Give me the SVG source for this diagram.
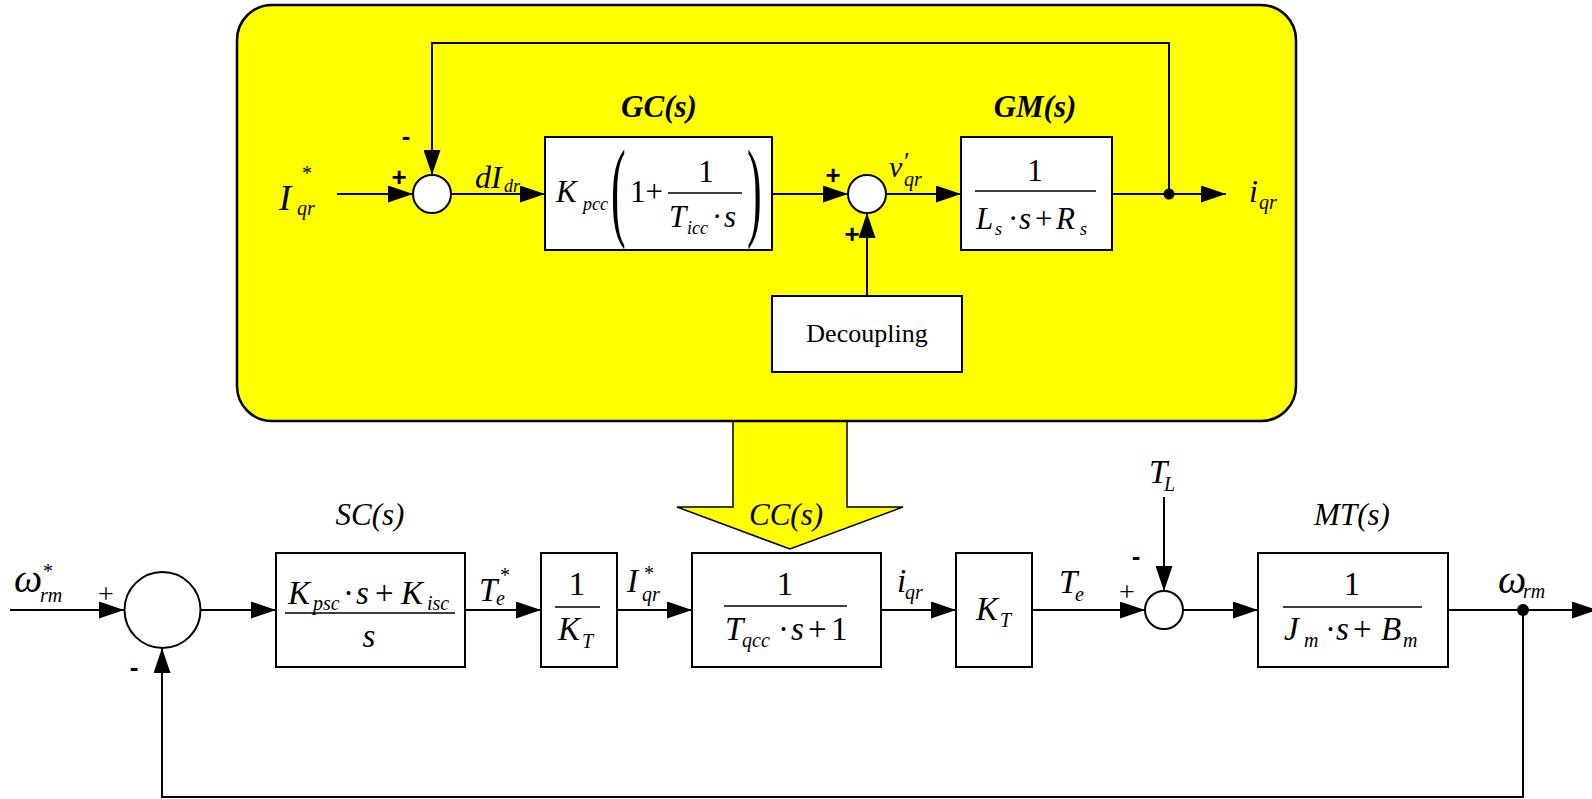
<svg xmlns="http://www.w3.org/2000/svg" width="1592" height="799" viewBox="0 0 1592 799" font-family="Liberation Serif, serif">
<style>
.ln{stroke:#000;stroke-width:2;fill:none}
.box{fill:#fff;stroke:#000;stroke-width:2}
.sum{fill:#fff;stroke:#000;stroke-width:2}
.fr{stroke:#000;stroke-width:1.5}
.i{font-style:italic}
.bi{font-style:italic;font-weight:bold}
.sg{font-family:"Liberation Sans",Arial,sans-serif;font-weight:bold;font-size:26px}
.u{font-size:31px}
.us{font-size:18px;font-style:italic}
.l{font-size:33px}
.ls{font-size:20px;font-style:italic}
.par{font-size:110px}
</style>
<defs>
<marker id="ah" viewBox="0 0 25 17" refX="25" refY="8.5" markerWidth="25" markerHeight="17" markerUnits="userSpaceOnUse" orient="auto">
<path d="M0,0 L25,8.5 L0,17 z" fill="#000"/>
</marker>
</defs>
<rect width="1592" height="799" fill="#fff"/>

<g id="cc-arrow">
<polygon points="733,421 733,507 677,507 790,549 903,507 847,507 847,421" fill="#ffff00" stroke="#000" stroke-width="1.5"/>
<text class="i" x="786" y="525" font-size="31" text-anchor="middle">CC(s)</text>
</g>

<g id="current-loop">
<rect x="237" y="5" width="1059" height="416" rx="35" ry="35" fill="#ffff00" stroke="#000" stroke-width="2.5"/>
</g>

<g id="connectors">
<line class="ln" x1="337" y1="194" x2="413" y2="194" marker-end="url(#ah)"/>
<path class="ln" d="M1169,194 V43 H432 V175" marker-end="url(#ah)"/>
<line class="ln" x1="451" y1="194" x2="545" y2="194" marker-end="url(#ah)"/>
<line class="ln" x1="772" y1="194" x2="848" y2="194" marker-end="url(#ah)"/>
<line class="ln" x1="867" y1="296" x2="867" y2="213" marker-end="url(#ah)"/>
<line class="ln" x1="886" y1="194" x2="961" y2="194" marker-end="url(#ah)"/>
<line class="ln" x1="1112" y1="194" x2="1226" y2="194" marker-end="url(#ah)"/>
<circle cx="1169" cy="194" r="5.5" fill="#000"/>

<line class="ln" x1="10" y1="610" x2="124" y2="610" marker-end="url(#ah)"/>
<line class="ln" x1="201" y1="610" x2="276" y2="610" marker-end="url(#ah)"/>
<line class="ln" x1="465" y1="610" x2="541" y2="610" marker-end="url(#ah)"/>
<line class="ln" x1="617" y1="610" x2="692" y2="610" marker-end="url(#ah)"/>
<line class="ln" x1="881" y1="610" x2="956" y2="610" marker-end="url(#ah)"/>
<line class="ln" x1="1032" y1="610" x2="1145" y2="610" marker-end="url(#ah)"/>
<line class="ln" x1="1164" y1="497" x2="1164" y2="591" marker-end="url(#ah)"/>
<line class="ln" x1="1183" y1="610" x2="1258" y2="610" marker-end="url(#ah)"/>
<line class="ln" x1="1448" y1="610" x2="1597" y2="610" marker-end="url(#ah)"/>
<path class="ln" d="M1523,610 V797 H162 V648" marker-end="url(#ah)"/>
<circle cx="1523" cy="610" r="6" fill="#000"/>
</g>

<g id="sum1">
<circle class="sum" cx="432" cy="194" r="19"/>
<text class="sg" x="399" y="186" text-anchor="middle">+</text>
<text class="sg" x="406" y="145" text-anchor="middle">-</text>
</g>

<g id="gc">
<rect class="box" x="545" y="137" width="227" height="113"/>
<text class="bi" x="659" y="117" font-size="31" text-anchor="middle">GC(s)</text>
<text class="i u" x="556" y="202">K</text>
<text class="us" x="583" y="210">pcc</text>
<text class="par" transform="translate(611,226) scale(0.4,1)">(</text>
<text class="u" x="630" y="202">1+</text>
<text class="u" x="706" y="182" text-anchor="middle">1</text>
<line class="fr" x1="668" y1="193" x2="742" y2="193"/>
<text class="i u" x="669" y="227">T</text>
<text class="us" x="687" y="234">icc</text>
<text class="u" x="712" y="227">·</text>
<text class="i u" x="724" y="227">s</text>
<text class="par" transform="translate(747,226) scale(0.4,1)">)</text>
</g>

<g id="sum2">
<circle class="sum" cx="867" cy="194" r="19"/>
<text class="sg" x="833" y="184" text-anchor="middle">+</text>
<text class="sg" x="852" y="243" text-anchor="middle">+</text>
</g>

<g id="decoupling">
<rect class="box" x="772" y="296" width="190" height="76"/>
<text x="867" y="342" font-size="26" text-anchor="middle">Decoupling</text>
</g>

<g id="gm">
<rect class="box" x="961" y="137" width="151" height="113"/>
<text class="bi" x="1035" y="117" font-size="31" text-anchor="middle">GM(s)</text>
<text class="u" x="1035" y="181" text-anchor="middle">1</text>
<line class="fr" x1="975" y1="191" x2="1096" y2="191"/>
<text class="i u" x="976" y="229">L</text>
<text class="us" x="995" y="235">s</text>
<text class="u" x="1008" y="229">·</text>
<text class="i u" x="1019" y="229">s</text>
<text class="u" x="1035" y="229">+</text>
<text class="i u" x="1056" y="229">R</text>
<text class="us" x="1080" y="235">s</text>
</g>

<g id="sum3">
<circle class="sum" cx="162.5" cy="610" r="38"/>
<text x="106" y="603" font-size="28" text-anchor="middle">+</text>
<text class="sg" x="134" y="676" text-anchor="middle">-</text>
</g>

<g id="sc">
<rect class="box" x="276" y="553" width="189" height="114"/>
<text class="i" x="370" y="525" font-size="31" text-anchor="middle">SC(s)</text>
<text class="i l" x="288" y="604">K</text>
<text class="ls" x="313" y="610">psc</text>
<text class="l" x="343" y="604">·</text>
<text class="i l" x="356" y="604">s</text>
<text class="l" x="375" y="604">+</text>
<text class="i l" x="401" y="604">K</text>
<text class="ls" x="427" y="610">isc</text>
<line class="fr" x1="285" y1="613" x2="455" y2="613"/>
<text class="i l" x="369" y="647" text-anchor="middle">s</text>
</g>

<g id="inv-kt">
<rect class="box" x="541" y="553" width="76" height="114"/>
<text class="l" x="577" y="595" text-anchor="middle">1</text>
<line class="fr" x1="555" y1="607" x2="600" y2="607"/>
<text class="i l" x="558" y="640">K</text>
<text class="ls" x="582" y="648">T</text>
</g>

<g id="cc">
<rect class="box" x="692" y="553" width="189" height="114"/>
<text class="l" x="785" y="595" text-anchor="middle">1</text>
<line class="fr" x1="724" y1="606" x2="847" y2="606"/>
<text class="i l" x="725" y="640">T</text>
<text class="ls" x="742" y="647">qcc</text>
<text class="l" x="778" y="640">·</text>
<text class="i l" x="791" y="640">s</text>
<text class="l" x="808" y="640">+</text>
<text class="l" x="831" y="640">1</text>
</g>

<g id="kt">
<rect class="box" x="956" y="553" width="76" height="114"/>
<text class="i l" x="976" y="620">K</text>
<text class="ls" x="1000" y="627">T</text>
</g>

<g id="sum4">
<circle class="sum" cx="1164" cy="610" r="19"/>
<text x="1127" y="601" font-size="28" text-anchor="middle">+</text>
<text class="sg" x="1136" y="565" text-anchor="middle">-</text>
</g>

<g id="mt">
<rect class="box" x="1258" y="553" width="190" height="114"/>
<text class="i" x="1352" y="525" font-size="31" text-anchor="middle">MT(s)</text>
<text class="l" x="1352" y="595" text-anchor="middle">1</text>
<line class="fr" x1="1283" y1="607" x2="1422" y2="607"/>
<text class="i l" x="1284" y="640">J</text>
<text class="ls" x="1304" y="647">m</text>
<text class="l" x="1325" y="640">·</text>
<text class="i l" x="1336" y="640">s</text>
<text class="l" x="1353" y="640">+</text>
<text class="i l" x="1381" y="640">B</text>
<text class="ls" x="1403" y="647">m</text>
</g>

<g id="labels">
<text class="i" x="279" y="210" font-size="36">I</text>
<text x="302" y="180" font-size="20">*</text>
<text class="ls" x="297" y="215">qr</text>
<text class="i" x="475" y="188" font-size="32">dI</text>
<text class="us" x="504" y="192">dr</text>
<text class="i" x="889" y="177" font-size="30">v</text>
<text x="904" y="170" font-size="26">′</text>
<text class="ls" x="904" y="186">qr</text>
<text class="i" x="1249" y="202" font-size="32">i</text>
<text class="ls" x="1259" y="209">qr</text>

<text class="i" x="14" y="592" font-size="40">ω</text>
<text x="43" y="578" font-size="20">*</text>
<text class="ls" x="40" y="602">rm</text>
<text class="i" x="479" y="601" font-size="33">T</text>
<text x="500" y="582" font-size="20">*</text>
<text class="ls" x="496" y="605">e</text>
<text class="i" x="627" y="592" font-size="33">I</text>
<text x="644" y="580" font-size="20">*</text>
<text class="ls" x="642" y="601">qr</text>
<text class="i" x="897" y="592" font-size="33">i</text>
<text class="ls" x="905" y="599">qr</text>
<text class="i" x="1059" y="593" font-size="33">T</text>
<text class="ls" x="1075" y="601">e</text>
<text class="i" x="1149" y="483" font-size="33">T</text>
<text class="ls" x="1164" y="491">L</text>
<text class="i" x="1498" y="593" font-size="40">ω</text>
<text class="ls" x="1523" y="598">rm</text>
</g>
</svg>
